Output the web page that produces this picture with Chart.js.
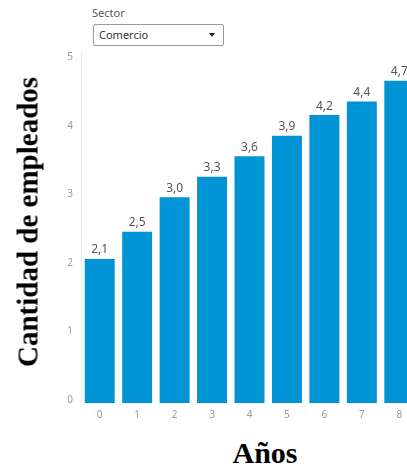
<!DOCTYPE html>
<html lang="es">
<head>
<meta charset="utf-8">
<title>Cantidad de empleados por año</title>
<script src="https://cdn.jsdelivr.net/npm/chart.js@4"></script>
<style>
  html, body { margin: 0; padding: 0; background: #fff; overflow: hidden; }
  body { width: 407px; height: 471px; position: relative; font-family: "Noto Sans", "Open Sans", sans-serif; }
  #slicerLabel { position: absolute; left: 92px; top: 5px; font-size: 11px; color: #555; }
  #slicer {
    position: absolute; left: 93px; top: 24px; width: 124px; height: 20px;
    border: 1px solid #9a9a9a; border-radius: 2px; font-size: 11px; color: #333;
    line-height: 20px; padding-left: 5px; box-sizing: content-box;
  }
  #slicer .arrow {
    position: absolute; right: 8px; top: 8px; width: 0; height: 0;
    border-left: 3px solid transparent; border-right: 3px solid transparent; border-top: 4px solid #222;
  }
  #wrap { position: absolute; left: 0; top: 0; width: 418px; height: 430px; }
  .axisTitle { position: absolute; font-family: "Liberation Serif", "DejaVu Serif", serif; font-weight: bold; color: #000; white-space: nowrap; }
  #yTitle { left: 28px; top: 222px; font-size: 29px; transform: translate(-50%, -50%) rotate(-90deg); }
  #xTitle { left: 265px; top: 453px; font-size: 30px; transform: translate(-50%, -50%); }
</style>
</head>
<body>
<div id="slicerLabel">Sector</div>
<div id="slicer">Comercio<span class="arrow"></span></div>
<div id="wrap"><canvas id="chart"></canvas></div>
<div class="axisTitle" id="yTitle">Cantidad de empleados</div>
<div class="axisTitle" id="xTitle">Años</div>

<script>
// años desde 0 hasta 8 y empleados (en miles) para el sector Comercio
const YEARS = ["0", "1", "2", "3", "4", "5", "6", "7", "8"];
const EMPLOYEES = [2.1, 2.5, 3.0, 3.3, 3.6, 3.9, 4.2, 4.4, 4.7];
const Y_TICKS = [0, 1, 2, 3, 4, 5];

const BAR_COLOR = "#0094d4";

// etiqueta con el valor encima de cada barra (coma decimal)
const valueLabels = {
  id: "valueLabels",
  afterDatasetsDraw(chart) {
    const ctx = chart.ctx;
    const meta = chart.getDatasetMeta(0);
    ctx.save();
    ctx.font = "12px 'Noto Sans', 'Open Sans', sans-serif";
    ctx.fillStyle = "#555";
    ctx.textAlign = "center";
    ctx.textBaseline = "bottom";
    meta.data.forEach((bar, i) => {
      const txt = EMPLOYEES[i].toFixed(1).replace(".", ",");
      ctx.fillText(txt, bar.x, bar.y - 3);
    });
    ctx.restore();
  },
};

new Chart(document.getElementById("chart"), {
  type: "bar",
  data: {
    labels: YEARS,
    datasets: [{
      data: EMPLOYEES,
      backgroundColor: BAR_COLOR,
      borderWidth: 0,
      barPercentage: 0.8,
      categoryPercentage: 1,
    }],
  },
  options: {
    responsive: true,
    maintainAspectRatio: false,
    animation: false,
    layout: { padding: { top: 50, left: 0, right: 0, bottom: 0 } },
    plugins: {
      legend: { display: false },
      tooltip: { enabled: false },
    },
    scales: {
      x: {
        grid: { display: false, drawTicks: false },
        border: { display: false },
        ticks: { color: "#999", padding: 6, font: { size: 10, family: "'Noto Sans', sans-serif" } },
        afterFit: (scale) => { scale.height = 27; },
      },
      y: {
        min: 0,
        max: 5.15,
        grid: { display: false, drawTicks: false },
        border: { display: true, color: "#ececec" },
        ticks: { color: "#999", padding: 8, labelOffset: -3, font: { size: 10, family: "'Noto Sans', sans-serif" } },
        afterBuildTicks: (scale) => { scale.ticks = Y_TICKS.map((v) => ({ value: v })); },
        afterFit: (scale) => { scale.width = 81; },
      },
    },
  },
  plugins: [valueLabels],
});
</script>
</body>
</html>
